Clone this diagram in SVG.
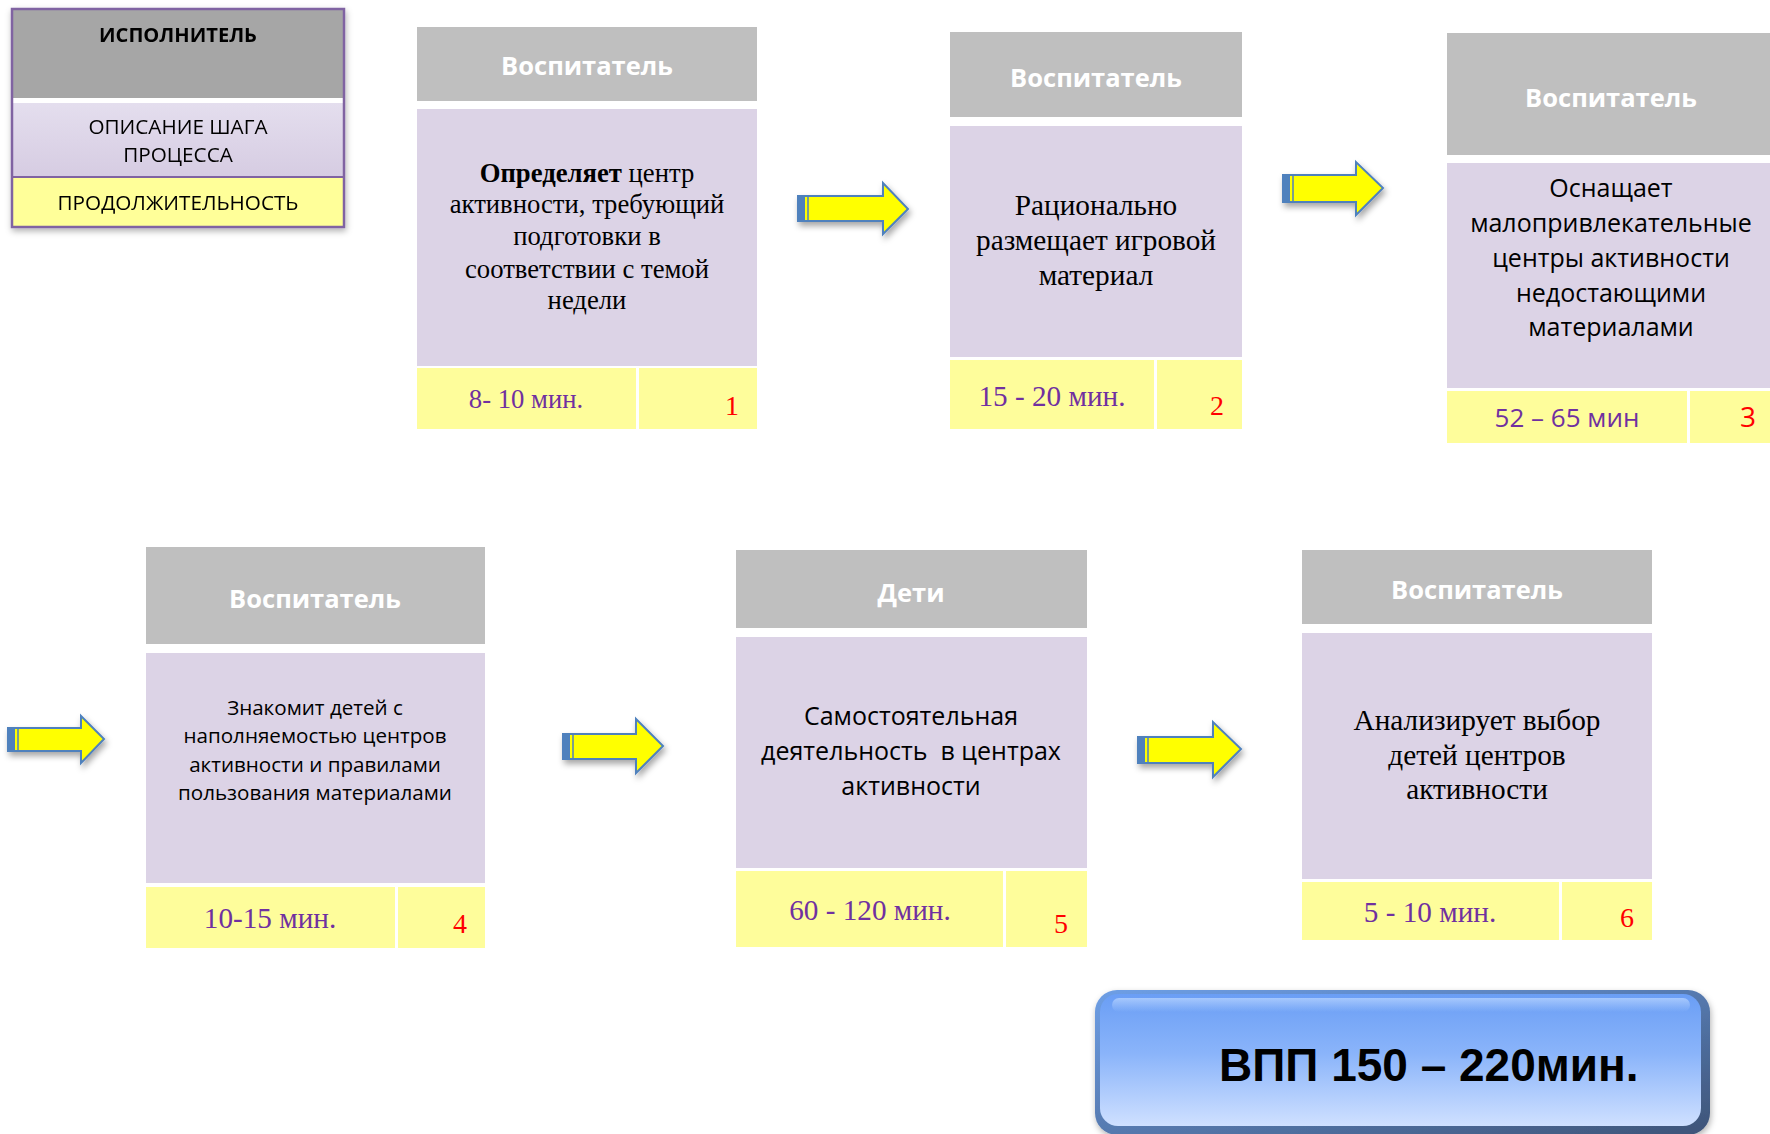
<svg xmlns="http://www.w3.org/2000/svg" width="1770" height="1134" viewBox="0 0 1770 1134">
  <defs>
    <style>
      .hdr { fill: #BFBFBF; }
      .lav { fill: #DCD3E6; }
      .yel { fill: #FEFD9B; }
      .ht { font-family: "Open Sans", "Noto Sans", sans-serif; font-weight: bold; font-size: 25.5px; fill: #FFFFFF; text-anchor: middle; }
      .ds { font-family: "Liberation Serif", "Times New Roman", serif; font-size: 29.3px; fill: #000000; text-anchor: middle; }
      .dsn { font-family: "Open Sans", "Noto Sans", sans-serif; font-size: 25px; fill: #000000; text-anchor: middle; }
      .dur { font-family: "Liberation Serif", "Times New Roman", serif; font-size: 29.2px; fill: #7030A0; text-anchor: middle; }
      .num { font-family: "Liberation Serif", "Times New Roman", serif; font-size: 28px; fill: #FF0000; text-anchor: middle; }
      .leg { font-family: "Open Sans", "Noto Sans", sans-serif; font-size: 20.7px; fill: #000000; text-anchor: middle; }
      .arr { fill: #FFFF00; stroke: #4F81BD; stroke-width: 2; stroke-linejoin: miter; }
      .arrend { fill: #4F81BD; }
    </style>
    <filter id="shadow" x="-20%" y="-20%" width="140%" height="160%">
      <feDropShadow dx="2" dy="4" stdDeviation="3" flood-color="#000000" flood-opacity="0.35"/>
    </filter>
    <filter id="lshadow" x="-10%" y="-10%" width="120%" height="125%">
      <feDropShadow dx="1" dy="3" stdDeviation="3" flood-color="#000000" flood-opacity="0.3"/>
    </filter>
    <linearGradient id="legLav" x1="0" y1="0" x2="0" y2="1">
      <stop offset="0" stop-color="#E4DEEE"/>
      <stop offset="1" stop-color="#D6CCE2"/>
    </linearGradient>
    <linearGradient id="btnGrad" x1="0" y1="0" x2="0" y2="1">
      <stop offset="0" stop-color="#6A9EF5"/>
      <stop offset="0.45" stop-color="#8AB4FA"/>
      <stop offset="1" stop-color="#CFE0FF"/>
    </linearGradient>
    <linearGradient id="btnEdge" x1="0" y1="0" x2="1" y2="1">
      <stop offset="0" stop-color="#6E9FE6"/>
      <stop offset="1" stop-color="#3E5478"/>
    </linearGradient>
    <linearGradient id="btnHi" x1="0" y1="0" x2="0" y2="1">
      <stop offset="0" stop-color="#B5D2FF" stop-opacity="0.8"/>
      <stop offset="1" stop-color="#B5D2FF" stop-opacity="0"/>
    </linearGradient>
  </defs>

  <!-- Legend -->
  <g id="legend" filter="url(#lshadow)">
    <rect x="12" y="9" width="332" height="218" fill="#FFFFFF"/>
    <rect x="12" y="9" width="332" height="89" fill="#A6A6A6"/>
    <rect x="12" y="103" width="332" height="74" fill="url(#legLav)"/>
    <rect x="12" y="177" width="332" height="50" fill="#FFFF99"/>
    <line x1="12" y1="177" x2="344" y2="177" stroke="#8064A2" stroke-width="2"/>
    <rect x="12" y="9" width="332" height="218" fill="none" stroke="#8064A2" stroke-width="2.5"/>
    <text class="leg" x="178" y="42" style="font-weight:bold;font-size:20.1px">ИСПОЛНИТЕЛЬ</text>
    <text class="leg" x="178" y="134">ОПИСАНИЕ ШАГА</text>
    <text class="leg" x="178" y="162">ПРОЦЕССА</text>
    <text class="leg" x="178" y="210">ПРОДОЛЖИТЕЛЬНОСТЬ</text>
  </g>

  <!-- Node 1 -->
  <g id="node1">
    <rect class="hdr" x="417" y="27" width="340" height="74"/>
    <rect class="lav" x="417" y="109" width="340" height="257"/>
    <rect class="yel" x="417" y="368" width="219" height="61"/>
    <rect class="yel" x="639" y="368" width="118" height="61"/>
    <text class="ht" x="587" y="75">Воспитатель</text>
    <text class="ds" style="font-size:26.7px" x="587" y="182"><tspan font-weight="bold">Определяет</tspan> центр</text>
    <text class="ds" style="font-size:26.7px" x="587" y="213">активности, требующий</text>
    <text class="ds" style="font-size:26.7px" x="587" y="245">подготовки в</text>
    <text class="ds" style="font-size:26.7px" x="587" y="278">соответствии с темой</text>
    <text class="ds" style="font-size:26.7px" x="587" y="309">недели</text>
    <text class="dur" style="font-size:26.7px" x="526" y="408">8- 10 мин.</text>
    <text class="num" x="732" y="415">1</text>
  </g>

  <!-- Node 2 -->
  <g id="node2">
    <rect class="hdr" x="950" y="32" width="292" height="85"/>
    <rect class="lav" x="950" y="126" width="292" height="231"/>
    <rect class="yel" x="950" y="360" width="204" height="69"/>
    <rect class="yel" x="1157" y="360" width="85" height="69"/>
    <text class="ht" x="1096" y="87">Воспитатель</text>
    <text class="ds" x="1096" y="215">Рационально</text>
    <text class="ds" x="1096" y="250">размещает игровой</text>
    <text class="ds" x="1096" y="285">материал</text>
    <text class="dur" x="1052" y="406">15 - 20 мин.</text>
    <text class="num" x="1217" y="415">2</text>
  </g>

  <!-- Node 3 -->
  <g id="node3">
    <rect class="hdr" x="1447" y="33" width="330" height="122"/>
    <rect class="lav" x="1447" y="163" width="330" height="225"/>
    <rect class="yel" x="1447" y="391" width="240" height="52"/>
    <rect class="yel" x="1690" y="391" width="87" height="52"/>
    <text class="ht" x="1611" y="107">Воспитатель</text>
    <text class="dsn" x="1611" y="197">Оснащает</text>
    <text class="dsn" x="1611" y="232">малопривлекательные</text>
    <text class="dsn" x="1611" y="267">центры активности</text>
    <text class="dsn" x="1611" y="302">недостающими</text>
    <text class="dsn" x="1611" y="336">материалами</text>
    <text class="dur" x="1567" y="427" style="font-family:'Open Sans','Noto Sans',sans-serif;font-size:26px">52 – 65 мин</text>
    <text class="num" x="1748" y="427" style="font-family:'Open Sans','Noto Sans',sans-serif;font-size:28px">3</text>
  </g>

  <!-- Node 4 -->
  <g id="node4">
    <rect class="hdr" x="146" y="547" width="339" height="97"/>
    <rect class="lav" x="146" y="653" width="339" height="230"/>
    <rect class="yel" x="146" y="887" width="249" height="61"/>
    <rect class="yel" x="398" y="887" width="87" height="61"/>
    <text class="ht" x="315" y="608">Воспитатель</text>
    <text class="dsn" style="font-size:20.6px" x="315" y="715">Знакомит детей с</text>
    <text class="dsn" style="font-size:20.6px" x="315" y="743">наполняемостью центров</text>
    <text class="dsn" style="font-size:20.6px" x="315" y="772">активности и правилами</text>
    <text class="dsn" style="font-size:20.6px" x="315" y="800">пользования материалами</text>
    <text class="dur" x="270" y="928">10-15 мин.</text>
    <text class="num" x="460" y="933">4</text>
  </g>

  <!-- Node 5 -->
  <g id="node5">
    <rect class="hdr" x="736" y="550" width="351" height="78"/>
    <rect class="lav" x="736" y="637" width="351" height="231"/>
    <rect class="yel" x="736" y="871" width="267" height="76"/>
    <rect class="yel" x="1006" y="871" width="81" height="76"/>
    <text class="ht" x="911" y="602">Дети</text>
    <text class="dsn" x="911" y="725">Самостоятельная</text>
    <text class="dsn" x="911" y="760" xml:space="preserve">деятельность  в центрах</text>
    <text class="dsn" x="911" y="795">активности</text>
    <text class="dur" x="870" y="920">60 - 120 мин.</text>
    <text class="num" x="1061" y="933">5</text>
  </g>

  <!-- Node 6 -->
  <g id="node6">
    <rect class="hdr" x="1302" y="550" width="350" height="74"/>
    <rect class="lav" x="1302" y="633" width="350" height="246"/>
    <rect class="yel" x="1302" y="882" width="257" height="58"/>
    <rect class="yel" x="1562" y="882" width="90" height="58"/>
    <text class="ht" x="1477" y="599">Воспитатель</text>
    <text class="ds" x="1477" y="730">Анализирует выбор</text>
    <text class="ds" x="1477" y="765">детей центров</text>
    <text class="ds" x="1477" y="799">активности</text>
    <text class="dur" x="1430" y="922">5 - 10 мин.</text>
    <text class="num" x="1627" y="927">6</text>
  </g>

  <!-- Total -->
  <g id="total">
    <rect x="1095" y="990" width="615" height="145" rx="22" ry="22" fill="url(#btnEdge)" filter="url(#lshadow)"/>
    <rect x="1100" y="994" width="601" height="132" rx="18" ry="18" fill="url(#btnGrad)"/>
    <rect x="1112" y="998" width="578" height="14" rx="7" ry="7" fill="url(#btnHi)"/>
    <text x="1219" y="1081" font-family="Liberation Sans, Arial, sans-serif" font-weight="bold" font-size="46" fill="#000000">ВПП 150 – 220мин.</text>
  </g>

  <!-- Connectors -->
  <g id="connectors" filter="url(#shadow)">
    <g id="arrow1">
      <polygon class="arr" points="798,196 883,196 883,183 908,209 883,234 883,221 798,221"/>
      <rect class="arrend" x="798" y="196" width="7" height="25"/>
      <line x1="808" y1="196" x2="808" y2="221" stroke="#4F81BD" stroke-width="1.5"/>
    </g>
    <g id="arrow2">
      <polygon class="arr" points="1283,175 1356,175 1356,162 1383,188 1356,215 1356,202 1283,202"/>
      <rect class="arrend" x="1283" y="175" width="7" height="27"/>
      <line x1="1293" y1="175" x2="1293" y2="202" stroke="#4F81BD" stroke-width="1.5"/>
    </g>
    <g id="arrow3">
      <polygon class="arr" points="8,728 81,728 81,716 104,739 81,763 81,751 8,751"/>
      <rect class="arrend" x="8" y="728" width="7" height="23"/>
      <line x1="18" y1="728" x2="18" y2="751" stroke="#4F81BD" stroke-width="1.5"/>
    </g>
    <g id="arrow4">
      <polygon class="arr" points="563,734 636,734 636,719 663,746 636,773 636,759 563,759"/>
      <rect class="arrend" x="563" y="734" width="7" height="25"/>
      <line x1="573" y1="734" x2="573" y2="759" stroke="#4F81BD" stroke-width="1.5"/>
    </g>
    <g id="arrow5">
      <polygon class="arr" points="1138,737 1213,737 1213,722 1241,749 1213,777 1213,763 1138,763"/>
      <rect class="arrend" x="1138" y="737" width="7" height="26"/>
      <line x1="1148" y1="737" x2="1148" y2="763" stroke="#4F81BD" stroke-width="1.5"/>
    </g>
  </g>
</svg>
